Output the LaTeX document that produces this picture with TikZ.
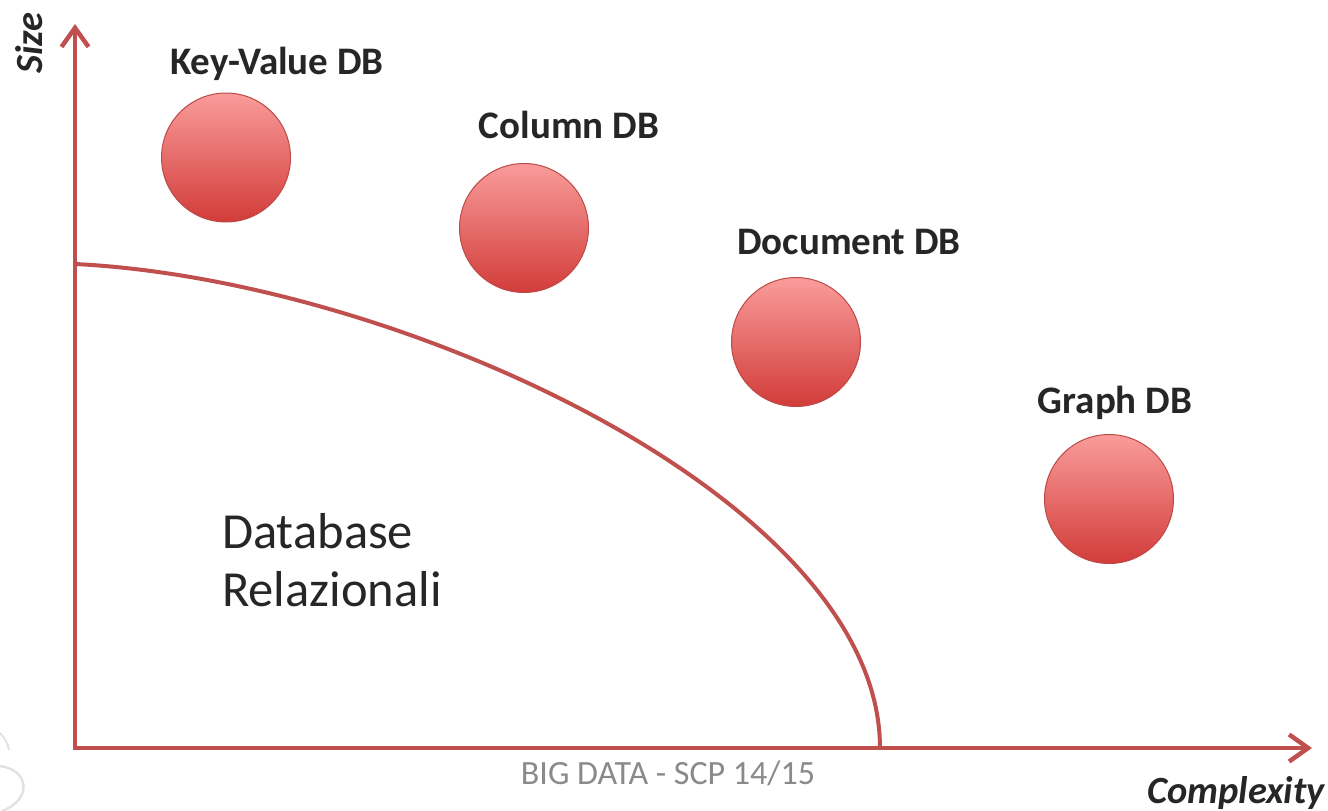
\documentclass[tikz,border=0pt]{standalone}
\usepackage{fontspec}
\setmainfont{Carlito}
\usetikzlibrary{arrows.meta}
\definecolor{axisred}{HTML}{C0504D}
\definecolor{ballTop}{HTML}{F99C9B}
\definecolor{ballBot}{HTML}{D23C39}
\definecolor{ballEdge}{HTML}{BC4A48}
\definecolor{txt}{HTML}{262626}
\definecolor{footgray}{HTML}{8A8A8A}
\definecolor{markgray}{HTML}{E2E2E2}
\begin{document}
\begin{tikzpicture}[x=1pt,y=-1pt,
  axis/.style={draw=axisred, line width=4.5pt, line join=miter,
    {Straight Barb[length=19pt,width=27pt]}-{Straight Barb[length=19pt,width=27pt]}},
  boundary/.style={draw=axisred, line width=4pt},
  ball/.style={circle, minimum size=129pt, inner sep=0pt, draw=ballEdge, line width=1pt,
    top color=ballTop, bottom color=ballBot},
  lbl/.style={font=\fontsize{39}{46}\selectfont\bfseries, text=txt, inner sep=0pt},
  axlbl/.style={font=\fontsize{38.5}{44}\selectfont\bfseries\itshape, text=txt, inner sep=0pt},
  region/.style={font=\fontsize{50.5}{58}\selectfont, text=txt, inner sep=0pt, align=left},
  foot/.style={font=\fontsize{34}{40}\selectfont, text=footgray, inner sep=0pt},
]
\useasboundingbox (0,0) rectangle (1328,811);

% faint watermark fragment
\draw[markgray, line width=2pt] (0,733) .. controls (5,738) and (8,744) .. (9,750);
\draw[markgray, line width=2.5pt] (0,766) .. controls (30,770) and (32,800) .. (2,811);

% axes
\coordinate (O) at (75,748);
\coordinate (ytip) at (75,24);
\coordinate (xtip) at (1312,748);
\draw[axis] (ytip) -- (O) -- (xtip);

% boundary curve of relational databases
\coordinate (c0) at (75,264);
\coordinate (c1) at (880,748);
\draw[boundary] (c0) .. controls (400,280) and (880,500) .. (c1);

% balls
\node[ball] (kv) at (226,157.5) {};
\node[ball] (col) at (524,228) {};
\node[ball] (doc) at (796,342) {};
\node[ball] (gr) at (1109,499) {};

% labels
\node[lbl, anchor=base] (kvl) at (277,74) {Key-Value DB};
\node[lbl, anchor=base] (coll) at (569,138) {Column DB};
\node[lbl, anchor=base] (docl) at (849,254) {Document DB};
\node[lbl, anchor=base] (grl) at (1115,413) {Graph DB};

\node[region, anchor=base west] (rel) at (222,606) {Database\\Relazionali};

\node[axlbl, rotate=90] (size) at (29,43) {Size};
\node[axlbl, anchor=base east] (cplx) at (1325,803) {Complexity};

\node[foot, anchor=base] (ft) at (668,784) {BIG DATA - SCP 14/15};
\end{tikzpicture}
\end{document}
